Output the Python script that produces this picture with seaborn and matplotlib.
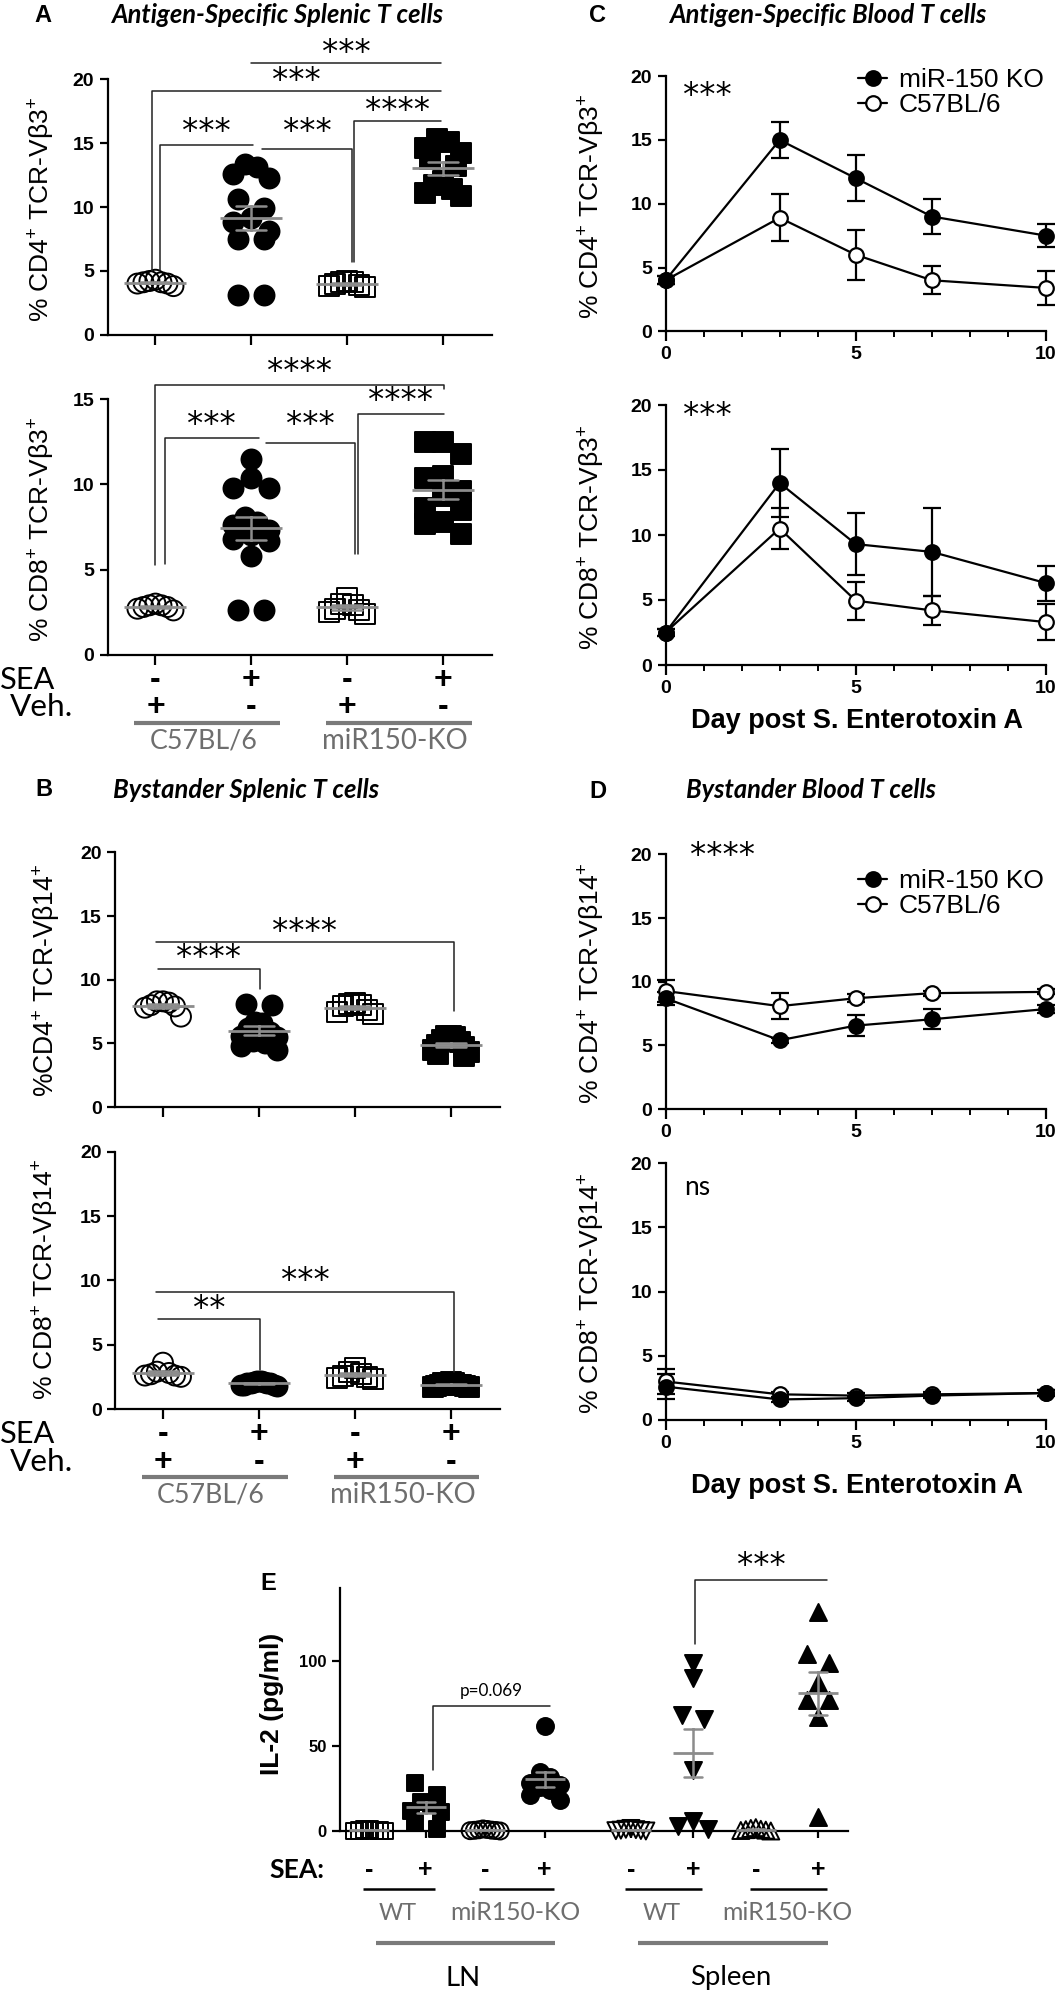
import numpy as np
import pandas as pd
import matplotlib
matplotlib.use("Agg")
import matplotlib.pyplot as plt
import seaborn as sns
from matplotlib.lines import Line2D
from matplotlib.ticker import MultipleLocator
from matplotlib import transforms

# ---------------------------------------------------------------- data
ab_sea = ["-", "+", "-", "+"]
ab_veh = ["+", "-", "+", "-"]
ab_strains = ["C57BL/6", "miR150-KO"]

# Panel A (antigen-specific splenic T cells, % TCR-Vb3+)
a_cd4_wt_veh = [4.2, 4.0, 4.1, 3.8, 4.0, 4.3, 4.1]
a_cd4_wt_sea = [13.4, 12.6, 13.1, 12.3, 10.6, 9.9, 9.1, 8.8, 8.1, 7.5, 7.5, 3.1, 3.1]
a_cd4_ko_veh = [4.1, 3.9, 3.7, 4.2, 4.0, 3.8, 4.1]
a_cd4_ko_sea = [15.3, 15.1, 14.6, 14.2, 13.8, 13.2, 12.0, 11.7, 11.4, 11.1, 10.9]
a_cd8_wt_veh = [2.9, 2.8, 2.7, 3.0, 2.6, 2.8, 2.9]
a_cd8_wt_sea = [11.5, 10.4, 9.8, 9.8, 8.1, 7.8, 7.6, 7.3, 7.0, 6.8, 6.7, 5.8, 2.6, 2.6]
a_cd8_ko_veh = [3.3, 2.9, 2.7, 2.5, 2.4, 2.6, 3.0]
a_cd8_ko_sea = [12.5, 12.5, 11.8, 10.5, 10.4, 9.6, 9.3, 8.6, 8.5, 7.8, 7.7, 7.1]

# Panel B (bystander splenic T cells, % TCR-Vb14+)
b_cd4_wt_veh = [8.3, 8.2, 7.9, 7.8, 8.0, 8.3, 7.1]
b_cd4_wt_sea = [8.1, 8.0, 6.7, 6.6, 6.2, 5.9, 5.6, 5.5, 5.2, 5.0, 4.8, 4.5]
b_cd4_ko_veh = [8.2, 8.0, 7.6, 7.9, 7.5, 8.1, 7.3]
b_cd4_ko_sea = [5.6, 5.6, 5.5, 5.3, 5.1, 4.9, 4.7, 4.5, 4.3, 4.2, 4.0]
b_cd8_wt_veh = [3.6, 2.8, 2.6, 2.5, 2.7, 2.6, 2.9]
b_cd8_wt_sea = [2.2, 2.1, 2.0, 2.0, 1.9, 1.9, 2.1, 2.0, 1.8, 2.2, 2.0, 1.9]
b_cd8_ko_veh = [3.2, 2.9, 2.6, 2.4, 2.3, 2.7, 2.5]
b_cd8_ko_sea = [2.1, 2.0, 1.9, 1.8, 1.9, 1.7, 2.0, 1.8, 1.9, 1.7, 2.0]

# Panels C / D (blood time course, mean and SEM)
days = [0, 3, 5, 7, 10]
series_names = ["miR-150 KO", "C57BL/6"]
c_cd4_ko = [4.0, 15.0, 12.0, 9.0, 7.5]
c_cd4_ko_sem = [0.3, 1.4, 1.8, 1.4, 0.9]
c_cd4_wt = [4.0, 8.9, 6.0, 4.0, 3.4]
c_cd4_wt_sem = [0.3, 1.85, 1.95, 1.1, 1.3]
c_cd8_ko = [2.5, 14.0, 9.3, 8.7, 6.3]
c_cd8_ko_sem = [0.3, 2.65, 2.4, 3.4, 1.35]
c_cd8_wt = [2.5, 10.5, 4.95, 4.2, 3.3]
c_cd8_wt_sem = [0.3, 1.6, 1.45, 1.1, 1.4]
d_cd4_ko = [8.7, 5.4, 6.55, 7.05, 7.85]
d_cd4_ko_sem = [0.5, 0.2, 0.8, 0.8, 0.3]
d_cd4_wt = [9.27, 8.08, 8.7, 9.1, 9.2]
d_cd4_wt_sem = [0.9, 1.0, 0.3, 0.2, 0.2]
d_cd8_ko = [2.6, 1.6, 1.7, 1.9, 2.1]
d_cd8_ko_sem = [1.0, 0.2, 0.2, 0.2, 0.2]
d_cd8_wt = [3.0, 2.0, 1.9, 2.0, 2.1]
d_cd8_wt_sem = [1.0, 0.2, 0.2, 0.2, 0.2]

# Panel E (IL-2, pg/ml)
e_sea = ["-", "+", "-", "+", "-", "+", "-", "+"]
e_strains = ["WT", "miR150-KO", "WT", "miR150-KO"]
e_tissues = ["LN", "Spleen"]
e_ln_wt_neg = [0.5, 0.2, 0.0, 0.8, 0.3, 0.0, 0.6]
e_ln_wt_sea = [28, 21, 17, 16, 12, 11, 5, 1]
e_ln_ko_neg = [0.4, 0.9, 0.2, 0.0, 1.2, 0.5, 0.3, 0.7]
e_ln_ko_sea = [62, 35, 32, 28, 27, 26, 24, 21, 18]
e_sp_wt_neg = [0.5, 1.0, 0.2, 0.0, 1.5, 0.8, 0.3]
e_sp_wt_sea = [99, 90, 68, 66, 36, 6, 3, 1]
e_sp_ko_neg = [0.8, 1.5, 0.3, 0.0, 1.0, 2.0, 0.5]
e_sp_ko_sea = [129, 104, 99, 87, 77, 77, 67, 8]

# ---------------------------------------------------------------- style
W, H = 1061, 1997
sns.set_theme(style="ticks")
plt.rcParams.update({
    "font.family": ["Liberation Sans", "DejaVu Sans"],
    "mathtext.fontset": "custom",
    "mathtext.rm": "Liberation Sans",
    "mathtext.it": "Liberation Sans:italic",
    "mathtext.bf": "Liberation Sans:bold",
    "text.color": "black",
    "axes.labelcolor": "black",
    "axes.edgecolor": "black",
    "axes.linewidth": 1.6,
    "xtick.color": "black", "ytick.color": "black",
    "xtick.major.width": 1.6, "ytick.major.width": 1.6,
    "xtick.minor.width": 1.4,
    "xtick.major.size": 6, "ytick.major.size": 6, "xtick.minor.size": 4,
    "xtick.direction": "out", "ytick.direction": "out",
})
F_TXT = ["Lato", "DejaVu Sans"]
F_STAR = ["DejaVu Sans"]
GRAY_MEAN = "#8c8c8c"
GRAY_TXT = "#6e6e6e"
STAR_W = 16.3          # reference width of one asterisk, px

fig = plt.figure(figsize=(W / 100, H / 100), dpi=100)
fig.patch.set_facecolor("white")

FIT = []               # (text, target size in px, 'w' or 'h')


def fit(t, target, dim="w"):
    FIT.append((t, target, dim))
    return t


def px_ax(l, t, r, b):
    ax = fig.add_axes([l / W, 1 - b / H, (r - l) / W, (b - t) / H])
    ax.set_facecolor("none")
    sns.despine(ax=ax)
    return ax


def ftext(x, y, s, **kw):
    kw.setdefault("ha", "center")
    kw.setdefault("va", "center")
    return fig.text(x / W, 1 - y / H, s, **kw)


def yticks(ax, ticks, fs=14):
    ax.set_yticks(ticks)
    ax.set_yticklabels([str(t) for t in ticks], fontsize=fs, fontweight="bold")


def gp_offsets(vals, ppu_y, ppc_x, diam, maxspan):
    """GraphPad-like horizontal spreading of points with close values."""
    v = np.asarray(vals, float)
    ypx = v * ppu_y
    order = np.argsort(-ypx, kind="stable")
    bins = []
    for i in order:
        if bins and ypx[bins[-1][0]] - ypx[i] < 0.85 * diam:
            bins[-1].append(i)
        else:
            bins.append([i])
    offs = np.zeros(len(v))
    for b in bins:
        n = len(b)
        if n < 2:
            continue
        sp = min(1.3 * diam, maxspan / (n - 1))
        slots = (np.arange(n) - (n - 1) / 2) * sp
        slots = slots[np.argsort(np.abs(slots), kind="stable")]
        for k, i in enumerate(b):
            offs[i] = slots[k]
    return offs / ppc_x


def dot_panel(ax, groups, positions, markers, filled, ppu_y, ppc_x, diam_px,
              maxspan_px, mean_w_pt, capsize):
    ms = diam_px / 1.389
    for pos, vals, m, f in zip(positions, groups, markers, filled):
        offs = gp_offsets(vals, ppu_y, ppc_x, diam_px, maxspan_px)
        kw = dict(marker=m, s=ms ** 2, linewidth=1.4, edgecolor="black", ax=ax,
                  clip_on=False, legend=False, zorder=1)
        if f:
            sns.scatterplot(x=pos + offs, y=vals, color="black", **kw)
        else:
            sns.scatterplot(x=pos + offs, y=vals, facecolor="none", **kw)
    df = pd.DataFrame({"pos": np.repeat(positions, [len(g) for g in groups]),
                       "val": np.concatenate([np.asarray(g, float) for g in groups])})
    sns.pointplot(data=df, x="pos", y="val", native_scale=True, errorbar="se",
                  capsize=capsize, color=GRAY_MEAN, marker="_", markersize=mean_w_pt,
                  markeredgewidth=2.0, linestyle="none",
                  err_kws={"linewidth": 1.8, "zorder": 4}, ax=ax, zorder=4)
    ax.set_xlabel("")
    ax.set_ylabel("")


def stars(ax, x, y, txt):
    t = ax.text(x, y, txt, ha="center", va="center", fontsize=19, family=F_STAR,
                clip_on=False)
    if set(txt) == {"*"}:
        fit(t, STAR_W * len(txt))
    return t


def bracket(ax, x1, x2, y, txt, yt, yl=None, yr=None, family=None, target=None):
    xs, ys = [x1, x2], [y, y]
    if yl is not None:
        xs, ys = [x1] + xs, [yl] + ys
    if yr is not None:
        xs, ys = xs + [x2], ys + [yr]
    ax.plot(xs, ys, color="#222222", lw=1.1, clip_on=False)
    if family is None:
        stars(ax, (x1 + x2) / 2, yt, txt)
    else:
        t = ax.text((x1 + x2) / 2, yt, txt, ha="center", va="center", fontsize=13,
                    family=family, clip_on=False)
        fit(t, target)


def ab_axes_style(ax, ymax, ystep=5):
    ax.set_xlim(-0.5, 3.51)
    ax.set_ylim(0, ymax)
    ax.set_xticks(range(4))
    ax.set_xticklabels([])
    ax.tick_params(axis="x", length=7)
    yticks(ax, list(range(0, ymax + 1, ystep)))


def ab_labels(ax, y_sea, y_veh, y_line, y_lab):
    tr = transforms.blended_transform_factory(ax.transData, fig.transFigure)
    for i in range(4):
        ax.text(i, 1 - y_sea / H, ab_sea[i], transform=tr, ha="center", va="center",
                fontsize=23, fontweight="bold", clip_on=False)
        ax.text(i, 1 - y_veh / H, ab_veh[i], transform=tr, ha="center", va="center",
                fontsize=23, fontweight="bold", clip_on=False)
    widths = [107, 145]
    for k, name in enumerate(ab_strains):
        a, b = 2 * k, 2 * k + 1
        ax.plot([a - 0.22, b + 0.3], [1 - y_line / H] * 2, transform=tr,
                color="#7a7a7a", lw=3, clip_on=False, solid_capstyle="butt")
        t = ax.text((a + b) / 2, 1 - y_lab / H, name, transform=tr, ha="center",
                    va="center", fontsize=19, color=GRAY_TXT, family=F_TXT, clip_on=False)
        fit(t, widths[k])
    fit(ftext(28, y_sea, "SEA", fontsize=22, family=F_TXT), 55)
    fit(ftext(42, y_veh, "Veh.", fontsize=22, family=F_TXT), 63)


MK_AB = ["o", "o", "s", "s"]
FILL_AB = [False, True, False, True]

# ---------------------------------------------------------------- Panel A
axA1 = px_ax(107.5, 79.4, 492, 334.6)
dot_panel(axA1, [a_cd4_wt_veh, a_cd4_wt_sea, a_cd4_ko_veh, a_cd4_ko_sea], [0, 1, 2, 3],
          MK_AB, FILL_AB, 12.76, 95.8, 20, 36, 44, 0.31)
ab_axes_style(axA1, 20)
bracket(axA1, 0.05, 1.02, 14.83, "***", 15.9, yl=5.06)
bracket(axA1, 1.11, 2.05, 14.57, "***", 15.9, yr=5.69)
bracket(axA1, 2.075, 2.98, 16.76, "****", 17.6, yl=5.69)
bracket(axA1, -0.04, 2.98, 19.07, "***", 19.9, yl=5.02)
bracket(axA1, 0.995, 2.98, 21.3, "***", 22.1)

axA2 = px_ax(107.5, 399.2, 492, 654.7)
dot_panel(axA2, [a_cd8_wt_veh, a_cd8_wt_sea, a_cd8_ko_veh, a_cd8_ko_sea], [0, 1, 2, 3],
          MK_AB, FILL_AB, 17.0, 95.8, 20, 36, 44, 0.31)
ab_axes_style(axA2, 15)
bracket(axA2, 0.095, 1.076, 12.7, "***", 13.5, yl=5.35)
bracket(axA2, 1.15, 2.08, 12.45, "***", 13.5, yr=5.94)
bracket(axA2, 2.11, 3.01, 14.16, "****", 14.9, yl=5.94)
bracket(axA2, 0.0, 3.01, 15.85, "****", 16.6, yl=5.25, yr=15.6)
ab_labels(axA2, 680, 707, 723, 741)

ftext(43, 15, "A", fontsize=17, fontweight="bold")
fit(ftext(277, 15, "Antigen-Specific Splenic T cells", fontsize=15, family=F_TXT,
          fontweight="bold", fontstyle="italic"), 333)
fit(ftext(42, 209, r"% CD4$^{+}$ TCR-Vβ3$^{+}$", rotation=90, fontsize=18), 226, "h")
fit(ftext(42, 529, r"% CD8$^{+}$ TCR-Vβ3$^{+}$", rotation=90, fontsize=18), 226, "h")

# ---------------------------------------------------------------- Panel B
axB1 = px_ax(115, 852.4, 499.6, 1107)
dot_panel(axB1, [b_cd4_wt_veh, b_cd4_wt_sea, b_cd4_ko_veh, b_cd4_ko_sea], [0, 1, 2, 3],
          MK_AB, FILL_AB, 12.75, 95.9, 20, 36, 44, 0.31)
ab_axes_style(axB1, 20)
bracket(axB1, -0.05, 1.01, 10.87, "****", 11.76, yr=9.28)
bracket(axB1, -0.07, 3.03, 12.94, "****", 13.75, yr=7.55)

axB2 = px_ax(115, 1151.7, 499.6, 1409)
dot_panel(axB2, [b_cd8_wt_veh, b_cd8_wt_sea, b_cd8_ko_veh, b_cd8_ko_sea], [0, 1, 2, 3],
          MK_AB, FILL_AB, 12.85, 95.9, 20, 36, 44, 0.31)
ab_axes_style(axB2, 20)
bracket(axB2, -0.05, 1.01, 7.0, "**", 7.85, yr=3.0)
bracket(axB2, -0.07, 3.03, 9.1, "***", 9.95, yr=2.9)
ab_labels(axB2, 1434, 1462, 1477, 1495)

ftext(44, 790, "B", fontsize=17, fontweight="bold")
fit(ftext(246, 790, "Bystander Splenic T cells", fontsize=15, family=F_TXT,
          fontweight="bold", fontstyle="italic"), 266)
fit(ftext(46, 980, r"%CD4$^{+}$ TCR-Vβ14$^{+}$", rotation=90, fontsize=18), 234, "h")
fit(ftext(46, 1280, r"% CD8$^{+}$ TCR-Vβ14$^{+}$", rotation=90, fontsize=18), 241, "h")


# ---------------------------------------------------------------- Panels C / D
def line_panel(ax, ko, ko_sem, wt, wt_sem):
    for vals, sem, fc in ((wt, wt_sem, "white"), (ko, ko_sem, "black")):
        ax.errorbar(days, vals, yerr=sem, fmt="none", ecolor="black", elinewidth=1.6,
                    capsize=6.5, capthick=1.6, zorder=2, clip_on=False)
        sns.lineplot(x=days, y=vals, color="black", marker="o", markersize=10.5,
                     markerfacecolor=fc, markeredgecolor="black", markeredgewidth=1.6,
                     linewidth=1.6, ax=ax, zorder=3, clip_on=False, errorbar=None)
    ax.set_xlim(0, 10)
    ax.set_ylim(0, 20)
    ax.set_xticks([0, 5, 10])
    ax.set_xticklabels(["0", "5", "10"], fontsize=14, fontweight="bold")
    ax.xaxis.set_minor_locator(MultipleLocator(1))
    ax.tick_params(axis="x", which="major", length=7)
    ax.tick_params(axis="x", which="minor", length=4)
    yticks(ax, [0, 5, 10, 15, 20], fs=14)
    ax.set_xlabel("")
    ax.set_ylabel("")


def series_legend(ax, x_px, y_px):
    hs = [Line2D([], [], color="black", marker="o", markersize=10.5, markerfacecolor=fc,
                 markeredgecolor="black", markeredgewidth=1.6, linewidth=1.6)
          for fc in ("black", "white")]
    ax.legend(hs, series_names, loc="upper left", bbox_to_anchor=(x_px / W, 1 - y_px / H),
              bbox_transform=fig.transFigure, frameon=False, fontsize=19,
              handlelength=1.1, handletextpad=0.45, labelspacing=0.05,
              borderaxespad=0, borderpad=0)


axC1 = px_ax(665.5, 76.2, 1046, 331.3)
line_panel(axC1, c_cd4_ko, c_cd4_ko_sem, c_cd4_wt, c_cd4_wt_sem)
series_legend(axC1, 858, 68)
stars(axC1, 1.11, 18.5, "***")

axC2 = px_ax(665.5, 405, 1046, 665)
line_panel(axC2, c_cd8_ko, c_cd8_ko_sem, c_cd8_wt, c_cd8_wt_sem)
stars(axC2, 1.11, 19.2, "***")

ftext(598, 15, "C", fontsize=17, fontweight="bold")
fit(ftext(828, 15, "Antigen-Specific Blood T cells", fontsize=15, family=F_TXT,
          fontweight="bold", fontstyle="italic"), 318)
fit(ftext(592, 206, r"% CD4$^{+}$ TCR-Vβ3$^{+}$", rotation=90, fontsize=18), 226, "h")
fit(ftext(592, 537, r"% CD8$^{+}$ TCR-Vβ3$^{+}$", rotation=90, fontsize=18), 226, "h")
fit(ftext(857, 721, "Day post S. Enterotoxin A", fontsize=19, fontweight="bold"), 332)

axD1 = px_ax(665.5, 854.4, 1046, 1109)
line_panel(axD1, d_cd4_ko, d_cd4_ko_sem, d_cd4_wt, d_cd4_wt_sem)
series_legend(axD1, 858, 869)
stars(axD1, 1.49, 19.9, "****")

axD2 = px_ax(665.5, 1163.2, 1046, 1420)
line_panel(axD2, d_cd8_ko, d_cd8_ko_sem, d_cd8_wt, d_cd8_wt_sem)
fit(axD2.text(0.84, 18.1, "ns", ha="center", va="center", fontsize=18, family=F_TXT), 26)

ftext(598, 792, "D", fontsize=17, fontweight="bold")
fit(ftext(811, 790, "Bystander Blood T cells", fontsize=15, family=F_TXT,
          fontweight="bold", fontstyle="italic"), 251)
fit(ftext(592, 984, r"% CD4$^{+}$ TCR-Vβ14$^{+}$", rotation=90, fontsize=18), 241, "h")
fit(ftext(592, 1294, r"% CD8$^{+}$ TCR-Vβ14$^{+}$", rotation=90, fontsize=18), 241, "h")
fit(ftext(857, 1486, "Day post S. Enterotoxin A", fontsize=19, fontweight="bold"), 332)

# ---------------------------------------------------------------- Panel E
e_groups = [e_ln_wt_neg, e_ln_wt_sea, e_ln_ko_neg, e_ln_ko_sea,
            e_sp_wt_neg, e_sp_wt_sea, e_sp_ko_neg, e_sp_ko_sea]
e_pos = [0, 0.95, 1.95, 2.95, 4.4, 5.45, 6.5, 7.55]
MK_E = ["s", "s", "o", "o", "v", "v", "^", "^"]
FILL_E = [False, True, False, True, False, True, False, True]

axE = px_ax(340, 1588, 848, 1831)
dot_panel(axE, e_groups, e_pos, MK_E, FILL_E, 1.7, 59.5, 17, 30, 29, 0.32)
axE.set_xlim(-0.49, 8.05)
axE.set_ylim(0, 143)
axE.set_xticks(e_pos)
axE.set_xticklabels([])
axE.tick_params(axis="x", length=5)
yticks(axE, [0, 50, 100], fs=12)
bracket(axE, 1.08, 3.04, 73.7, "p=0.069", 82.5, yl=36, family=F_TXT, target=63)
bracket(axE, 5.48, 7.7, 147.6, "***", 156.5, yl=110)

trE = transforms.blended_transform_factory(axE.transData, fig.transFigure)
for p, s in zip(e_pos, e_sea):
    axE.text(p, 1 - 1870 / H, s, transform=trE, ha="center", va="center",
             fontsize=18, fontweight="bold", clip_on=False)
e_strain_w = [38, 130, 38, 130]
for k, name in enumerate(e_strains):
    a, b = e_pos[2 * k], e_pos[2 * k + 1]
    axE.plot([a - 0.1, b + 0.15], [1 - 1889 / H] * 2, transform=trE, color="black",
             lw=1.8, clip_on=False, solid_capstyle="butt")
    t = axE.text((a + b) / 2, 1 - 1913 / H, name, transform=trE, ha="center",
                 va="center", fontsize=18, color=GRAY_TXT, family=F_TXT, clip_on=False)
    fit(t, e_strain_w[k])
for k, name in enumerate(e_tissues):
    a, b = e_pos[4 * k], e_pos[4 * k + 3]
    axE.plot([a + 0.12, b + 0.17], [1 - 1943 / H] * 2, transform=trE, color="#7a7a7a",
             lw=3, clip_on=False, solid_capstyle="butt")
    t = axE.text((a + b) / 2 + 0.1, 1 - 1978 / H, name, transform=trE, ha="center",
                 va="center", fontsize=20, family=F_TXT, clip_on=False)
    if name == "LN":
        fit(t, 35)
fit(ftext(297, 1870, "SEA:", fontsize=18, fontweight="bold", family=F_TXT), 55)
ftext(268, 1583, "E", fontsize=17, fontweight="bold")
fit(ftext(272, 1704, "IL-2 (pg/ml)", rotation=90, fontsize=18, fontweight="bold"), 142, "h")

# ---------------------------------------------------------------- size text to the reference
fig.canvas.draw()
rend = fig.canvas.get_renderer()
ln_size = None
for t, target, dim in FIT:
    bb = t.get_window_extent(rend)
    cur = bb.width if dim == "w" else bb.height
    if cur > 0:
        t.set_fontsize(t.get_fontsize() * target / cur)
    if t.get_text() == "LN":
        ln_size = t.get_fontsize()
for t in axE.texts:
    if t.get_text() == "Spleen" and ln_size:
        t.set_fontsize(ln_size)

fig.savefig("out.png", dpi=100)
